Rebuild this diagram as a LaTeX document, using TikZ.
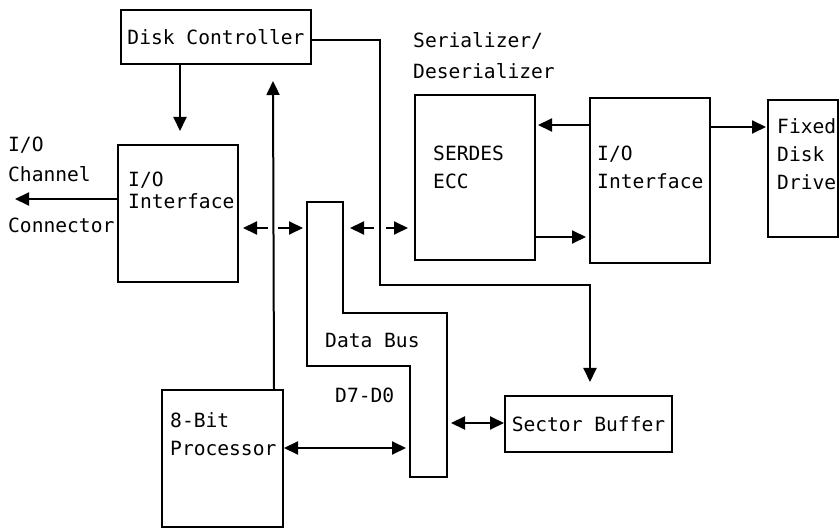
\documentclass[tikz,border=0pt]{standalone}
\usepackage{fontspec}
\setmonofont{DejaVu Sans Mono}
\usetikzlibrary{arrows.meta,positioning}
\begin{document}
\begin{tikzpicture}[
    x=1pt,y=-1pt,
    box/.style={draw,line width=2pt,inner sep=0pt,font=\ttfamily\fontsize{19.6}{28}\selectfont},
    lbl/.style={font=\ttfamily\fontsize{19.6}{28}\selectfont,inner sep=0pt,align=left},
    wire/.style={line width=2pt},
    arr/.style={wire,-{Triangle[length=14pt,width=13pt]}},
    darr/.style={wire,{Triangle[length=14pt,width=13pt]}-{Triangle[length=14pt,width=13pt]}}
    ]
    \useasboundingbox (0,0) rectangle (839,529);
    % blocks
    \node[box,minimum width=190pt,minimum height=54pt] (dc) at (216,37) {Disk Controller};
    \node[box,minimum width=120pt,minimum height=137pt] (ioL) at (178,213.5) {};
    \node[box,minimum width=120pt,minimum height=165pt] (serdes) at (475,177.5) {};
    \node[box,minimum width=120pt,minimum height=165pt] (ioR) at (650,180.5) {};
    \node[box,minimum width=70pt,minimum height=137pt] (disk) at (803,168.5) {};
    \node[box,minimum width=121pt,minimum height=137pt] (cpu) at (222.5,458.5) {};
    \node[box,minimum width=167pt,minimum height=56pt] (sb) at (588.5,424) {Sector Buffer};
    % data bus
    \draw[wire] (307,202) -| (343,313) -| (447,477) -| (410,366) -- (307,366) -- cycle;
    % texts
    \node[lbl,anchor=north west] (chan) at (8,137) {I/O\\[2pt]Channel};
    \node[lbl,anchor=north west] (conn) at (8,218) {Connector};
    \node[lbl,anchor=north west] (ioLtxt) at (128,172) {I/O\\[-6pt]Interface};
    \node[lbl,anchor=north west] (sertxt) at (413,32) {Serializer/\\[3pt]Deserializer};
    \node[lbl,anchor=north west] (serdestxt) at (433,146) {SERDES\\ECC};
    \node[lbl,anchor=north west] (ioRtxt) at (597,146) {I/O\\Interface};
    \node[lbl,anchor=north west] (disktxt) at (777,118) {Fixed\\Disk\\Drive};
    \node[lbl,anchor=north west] (cputxt) at (170,412) {8-Bit\\Processor};
    \node[lbl,anchor=base west] (bustxt) at (325,348) {Data Bus};
    \node[lbl,anchor=base west] (bitstxt) at (335,403) {D7-D0};
    % connectors
    \coordinate (chanend) at (15,199);
    \draw[arr] (ioL.west |- chanend) -- (chanend);
    \draw[arr] ([xshift=-36pt]dc.south) -- ([xshift=2pt,yshift=13pt]ioL.north);
    \draw[arr] ([xshift=-10pt]cpu.north east) -- ([xshift=57pt,yshift=-16pt]dc.south);
    \coordinate (bend) at (380,285);
    \draw[arr] ([yshift=-3pt]dc.east) -| (bend) -| ([xshift=1.5pt,yshift=13pt]sb.north);
    \draw[arr] (268,228) -- (243,228);
    \draw[arr] (278,228) -- (303,228);
    \draw[arr] (374,228) -- (350,228);
    \draw[arr] (386,228) -- (408,228);
    \draw[arr] (ioR.west |- 0,125) -- (538,125);
    \draw[arr] (serdes.east |- 0,237) -- (586,237);
    \draw[arr] (ioR.east |- 0,127) -- (766,127);
    \draw[darr] (cpu.east |- 0,448) -- (406,448);
    \draw[darr] (451,423) -- (sb.west |- 0,423);
\end{tikzpicture}
\end{document}
